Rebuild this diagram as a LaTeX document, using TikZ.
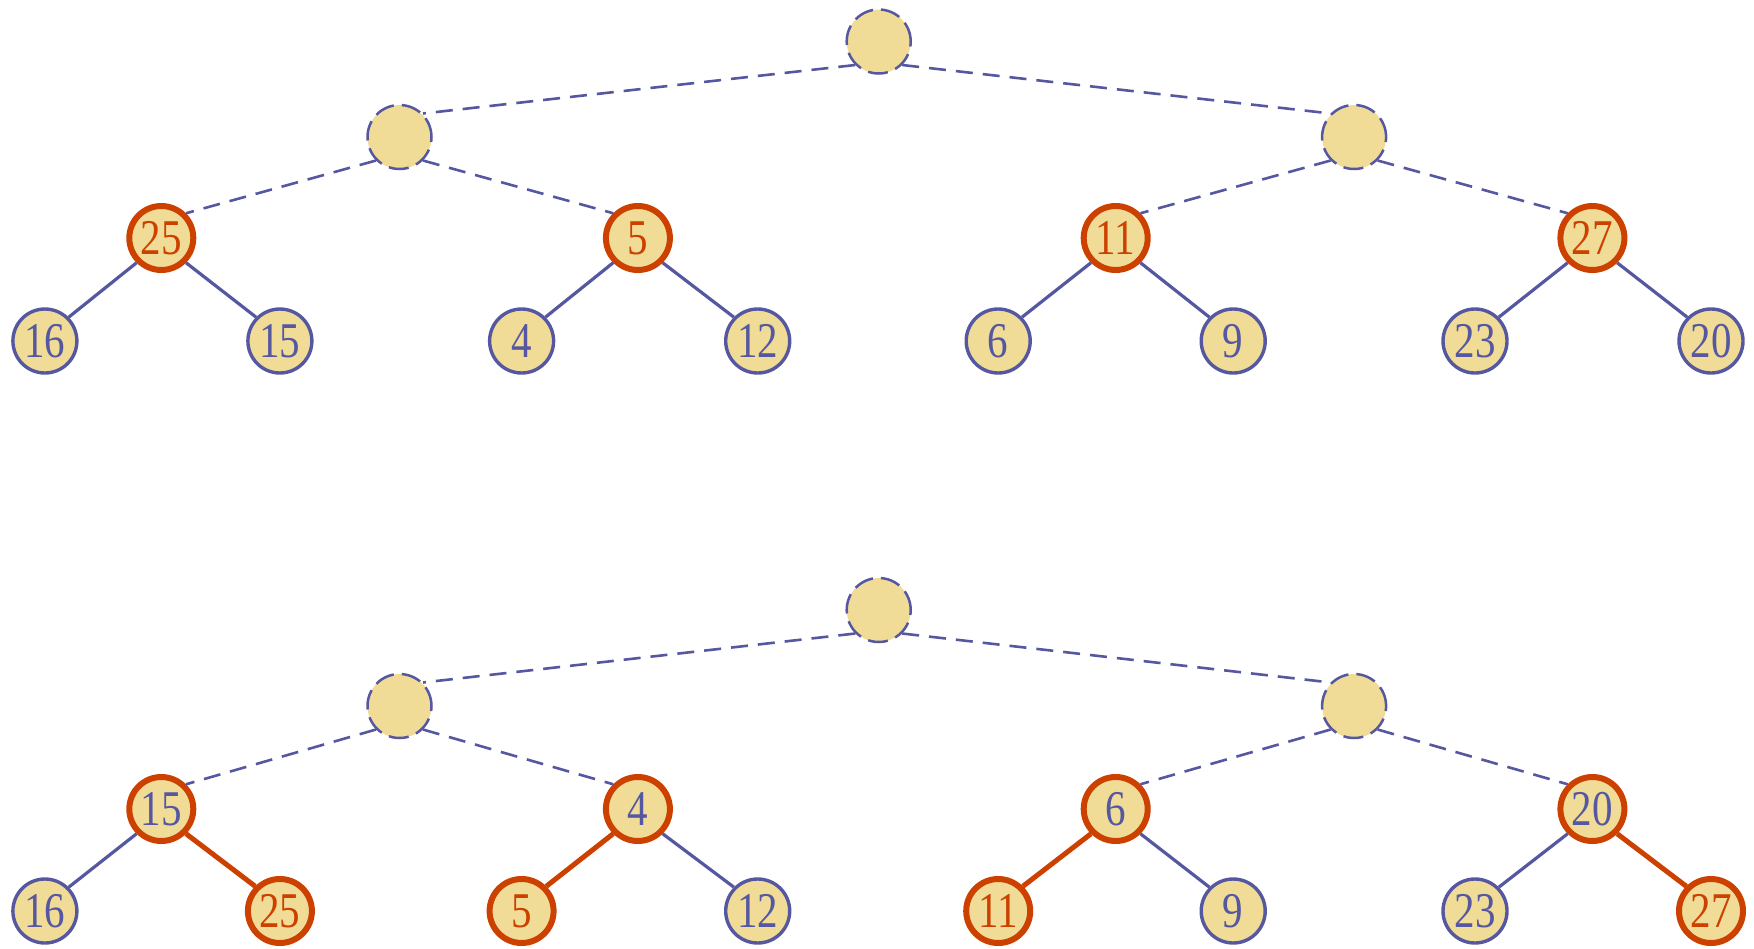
\documentclass[tikz,border=0pt]{standalone}
\usepackage{fontspec}
\newfontfamily\numfont[FakeStretch=0.82]{Liberation Serif}
\definecolor{fillY}{HTML}{F0DC96}
\definecolor{blueL}{HTML}{5558A0}
\definecolor{orngL}{HTML}{CC4000}
\tikzset{
  base/.style={circle,fill=fillY,minimum size=64pt,inner sep=0pt,font=\numfont\fontsize{50}{50}\selectfont},
  bnode/.style={base,draw=blueL,line width=3.4pt,text=blueL},
  onode/.style={base,draw=orngL,line width=6pt,text=orngL},
  obnode/.style={base,draw=orngL,line width=6pt,text=blueL},
  dnode/.style={base,draw=blueL,line width=2.5pt,dash pattern=on 20pt off 8pt},
  bedge/.style={draw=blueL,line width=3.2pt},
  oedge/.style={draw=orngL,line width=5pt},
  dedge/.style={draw=blueL,line width=2.6pt,dash pattern=on 17pt off 10pt},
}
\begin{document}
\begin{tikzpicture}[x=1pt,y=-1pt]
\useasboundingbox (0,0) rectangle (1754,948);
% ---------- top tree ----------
\node[dnode] (tr) at (878.7,41.5) {};
\node[dnode] (tl1) at (399.5,137) {};
\node[dnode] (tr1) at (1354.1,137) {};
\node[onode] (ta) at (161.3,238) {25};
\node[onode] (tb) at (637.9,238) {5};
\node[onode] (tc) at (1115.7,238) {11};
\node[onode] (td) at (1592.4,238) {27};
\node[bnode] (t1) at (44.9,341) {16};
\node[bnode] (t2) at (279.9,341) {15};
\node[bnode] (t3) at (521.6,341) {4};
\node[bnode] (t4) at (757.7,341) {12};
\node[bnode] (t5) at (998.2,341) {6};
\node[bnode] (t6) at (1233.2,341) {9};
\node[bnode] (t7) at (1475.0,341) {23};
\node[bnode] (t8) at (1711.0,341) {20};
\draw[dedge] (tr.south west) -- (tl1.north east);
\draw[dedge] (tr.south east) -- (tr1.north west);
\draw[dedge] (tl1.south west) -- (ta.north east);
\draw[dedge] (tl1.south east) -- (tb.north west);
\draw[dedge] (tr1.south west) -- (tc.north east);
\draw[dedge] (tr1.south east) -- (td.north west);
\draw[bedge] (ta.south west) -- (t1.north east);
\draw[bedge] (ta.south east) -- (t2.north west);
\draw[bedge] (tb.south west) -- (t3.north east);
\draw[bedge] (tb.south east) -- (t4.north west);
\draw[bedge] (tc.south west) -- (t5.north east);
\draw[bedge] (tc.south east) -- (t6.north west);
\draw[bedge] (td.south west) -- (t7.north east);
\draw[bedge] (td.south east) -- (t8.north west);
% ---------- bottom tree ----------
\node[dnode] (br) at (878.7,610) {};
\node[dnode] (bl1) at (399.5,706) {};
\node[dnode] (br1) at (1354.1,706) {};
\node[obnode] (ba) at (161.3,809) {15};
\node[obnode] (bb) at (637.9,809) {4};
\node[obnode] (bc) at (1115.7,809) {6};
\node[obnode] (bd) at (1592.4,809) {20};
\node[bnode] (b1) at (44.9,911) {16};
\node[onode] (b2) at (279.9,911) {25};
\node[onode] (b3) at (521.6,911) {5};
\node[bnode] (b4) at (757.7,911) {12};
\node[onode] (b5) at (998.2,911) {11};
\node[bnode] (b6) at (1233.2,911) {9};
\node[bnode] (b7) at (1475.0,911) {23};
\node[onode] (b8) at (1711.0,911) {27};
\draw[dedge] (br.south west) -- (bl1.north east);
\draw[dedge] (br.south east) -- (br1.north west);
\draw[dedge] (bl1.south west) -- (ba.north east);
\draw[dedge] (bl1.south east) -- (bb.north west);
\draw[dedge] (br1.south west) -- (bc.north east);
\draw[dedge] (br1.south east) -- (bd.north west);
\draw[bedge] (ba.south west) -- (b1.north east);
\draw[oedge] (ba.south east) -- (b2.north west);
\draw[oedge] (bb.south west) -- (b3.north east);
\draw[bedge] (bb.south east) -- (b4.north west);
\draw[oedge] (bc.south west) -- (b5.north east);
\draw[bedge] (bc.south east) -- (b6.north west);
\draw[bedge] (bd.south west) -- (b7.north east);
\draw[oedge] (bd.south east) -- (b8.north west);
\end{tikzpicture}
\end{document}
